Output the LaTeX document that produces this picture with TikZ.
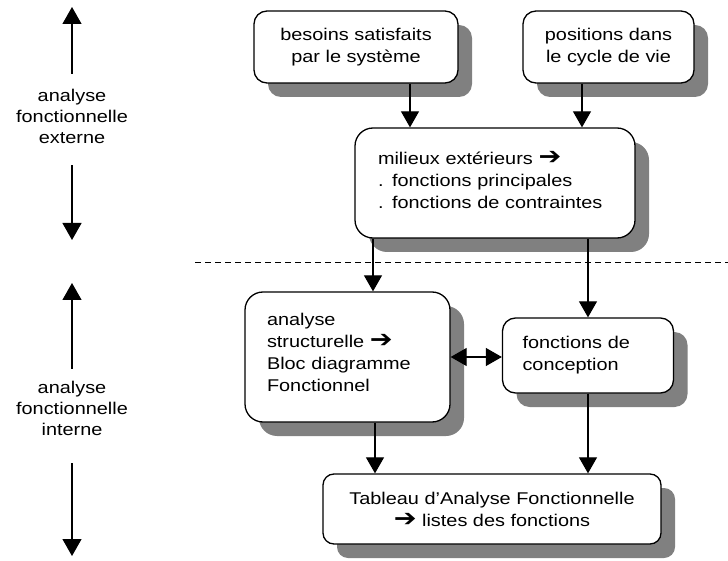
\documentclass[tikz,border=0pt]{standalone}
\usepackage{fontspec}
\setmainfont{Liberation Sans}[FakeStretch=1.17]
\newfontfamily\arrowfont{DejaVu Sans}
\newcommand{\bigarrow}{\scalebox{1.6}[1.4]{\arrowfont\char"2794}}
\usepackage{tikz}
\usetikzlibrary{arrows.meta,shadows}
\tikzset{
    shadowbox/.style={
            rectangle,
            draw,
            line width=1.3pt,
            fill=white,
            rounded corners=13pt,
            font=\fontsize{17}{22}\selectfont,
            drop shadow={shadow xshift=14pt, shadow yshift=-14pt, fill=black!50, opacity=1}
        },
    centerbox/.style={
            shadowbox,
            align=center,
            inner sep=0pt
        },
    leftbox/.style={
            shadowbox,
            align=left,
            inner ysep=0pt
        },
    side/.style={
            align=center,
            inner sep=0pt,
            font=\fontsize{17}{21}\selectfont
        },
    link/.style={
            -{Triangle[width=18pt,length=16pt]},
            line width=1.2pt
        },
    twolink/.style={
            {Triangle[width=18pt,length=16pt]}-{Triangle[width=18pt,length=16pt]},
            line width=1.2pt
        },
    sidelink/.style={
            -{Triangle[width=19pt,length=17pt]},
            line width=1.2pt
        },
    separator/.style={
            dash pattern=on 6pt off 4pt,
            line width=1pt
        }
}

\begin{document}
\begin{tikzpicture}[x=1pt, y=-1pt]
  \useasboundingbox (0,0) rectangle (728,561);
  % boxes
  \node[centerbox, minimum width=204pt, minimum height=72pt] (besoins) at (356,47) {besoins satisfaits\\par le syst\`eme};
  \node[centerbox, minimum width=171pt, minimum height=72pt] (positions) at (608.5,47) {positions dans\\le cycle de vie};
  \node[leftbox, rounded corners=18pt, inner xsep=23pt, text width=234pt, text depth=50pt, minimum height=110pt] (milieux) at (495,183) {milieux ext\'erieurs \bigarrow\\. fonctions principales\\. fonctions de contraintes};
  \node[leftbox, rounded corners=18pt, inner xsep=22pt, text width=161pt, text depth=76pt, minimum height=130pt] (structurelle) at (347.5,357) {analyse\\structurelle \bigarrow\\Bloc diagramme\\Fonctionnel};
  \node[leftbox, inner xsep=20pt, text width=131pt, minimum height=75pt] (conception) at (588,355.5) {fonctions de\\conception};
  \node[centerbox, rounded corners=11pt, minimum width=338pt, minimum height=70pt] (tableau) at (492,509) {Tableau d’Analyse Fonctionnelle\\\bigarrow{} listes des fonctions};
  % left side
  \node[side] (externe) at (72,116.4) {analyse\\fonctionnelle\\externe};
  \node[side] (interne) at (72,408.4) {analyse\\fonctionnelle\\interne};
  \coordinate (externeTop) at (72,7);
  \coordinate (externeBot) at (72,240);
  \coordinate (interneTop) at (72,283);
  \coordinate (interneBot) at (72,556);
  \draw[separator] (195,263) coordinate (sepL) -- (728,263) coordinate (sepR);
  % connectors
  \path [link] ([xshift=54pt]besoins.south) edge ([xshift=54pt]besoins.south |- milieux.north);
  \path [link] ([xshift=-26.5pt]positions.south) edge ([xshift=-26.5pt]positions.south |- milieux.north);
  \path [link] ([xshift=25.5pt]structurelle.north |- milieux.south) edge ([xshift=25.5pt]structurelle.north);
  \path [link] (conception.north |- milieux.south) edge (conception.north);
  \path [twolink] (structurelle.east) edge (structurelle.east -| conception.west);
  \path [link] ([xshift=27.5pt]structurelle.south) edge ([xshift=27.5pt]structurelle.south |- tableau.north);
  \path [link] (conception.south) edge (conception.south |- tableau.north);
  \path [sidelink] ([yshift=15pt]externe.north) edge (externeTop);
  \path [sidelink] ([yshift=-21.6pt]externe.south) edge (externeBot);
  \path [sidelink] ([yshift=12pt]interne.north) edge (interneTop);
  \path [sidelink] ([yshift=-27.6pt]interne.south) edge (interneBot);
\end{tikzpicture}
\end{document}
